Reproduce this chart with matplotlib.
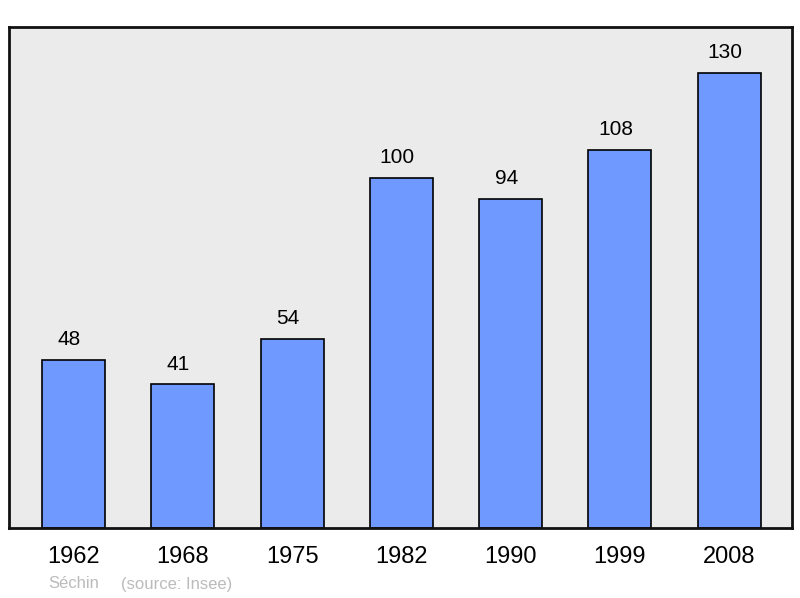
import matplotlib
matplotlib.use("Agg")
import matplotlib.pyplot as plt

# Données
annees = ["1962", "1968", "1975", "1982", "1990", "1999", "2008"]
population = [48, 41, 54, 100, 94, 108, 130]
commune = "Séchin"
source = "(source: Insee)"

plt.rcParams['font.family'] = ['Liberation Sans', 'DejaVu Sans']

fig = plt.figure(figsize=(8, 5.98), dpi=100)
# axes placé en pixels : x 9..792, y 27..528
ax = fig.add_axes([9 / 800, 1 - 528 / 598, 783 / 800, 501 / 598])
ax.set_facecolor("#ebebeb")

x = list(range(len(annees)))
ax.bar(x, population, width=0.576, color="#7099ff", edgecolor="black", linewidth=1.2, zorder=2)

for xi, v in zip(x, population):
    ax.text(xi - 0.04, v + 3.1, str(v), ha="center", va="bottom", fontsize=15)

ax.set_xlim(-0.59, 6.574)
ax.set_ylim(0, 143.1)
ax.set_yticks([])
ax.set_xticks(x)
ax.set_xticklabels(annees, fontsize=17)
ax.tick_params(axis="x", length=0, pad=13)
for s in ax.spines.values():
    s.set_linewidth(2)
    s.set_color("#111111")

fig.text(48 / 800, 1 - 584 / 598, commune, color="#bbbbbb", fontsize=12, va="center")
fig.text(121 / 800, 1 - 584 / 598, source, color="#bbbbbb", fontsize=12, va="center")

fig.savefig("out.png", dpi=100)
